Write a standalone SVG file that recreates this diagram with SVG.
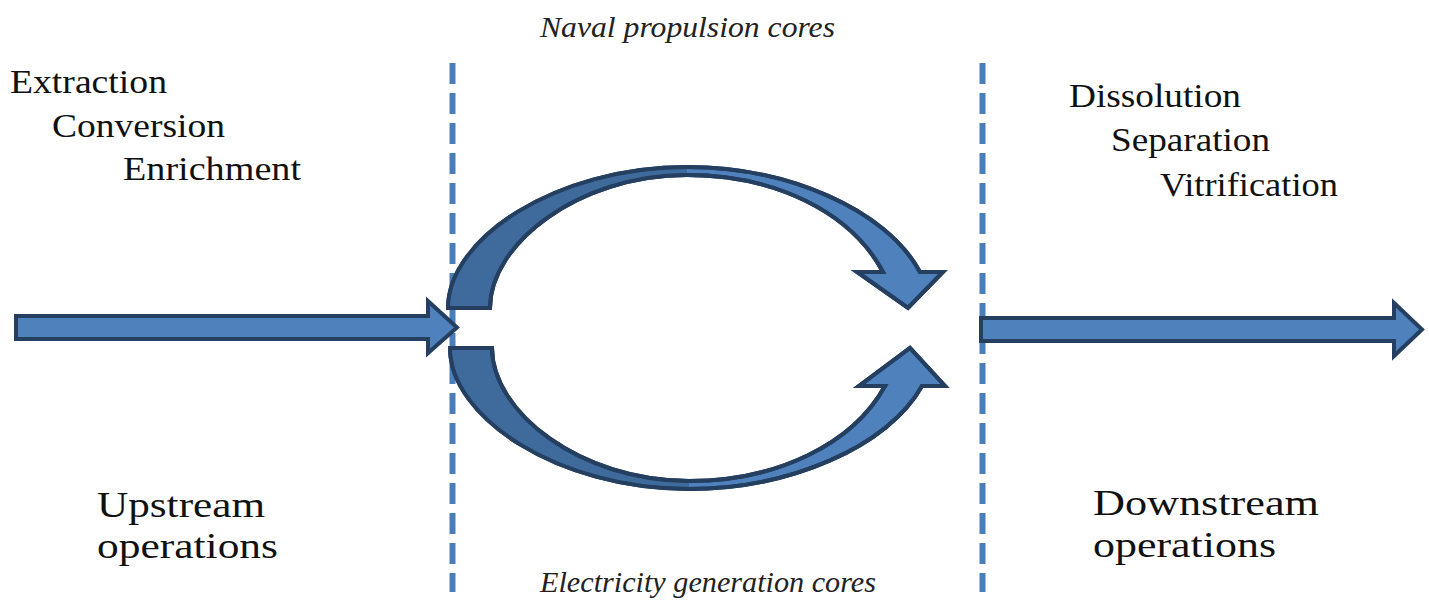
<svg xmlns="http://www.w3.org/2000/svg" width="1429" height="608" viewBox="0 0 1429 608">
<style>
.dash{stroke:#4a7ebb;stroke-width:6;stroke-dasharray:21 9;fill:none}
.arr{fill:#4f81bd;stroke:#243f60;stroke-width:4;stroke-linejoin:miter}
.back{fill:#3f6a9c;stroke:none}
.edge{fill:none;stroke:#243f60;stroke-width:4;stroke-linejoin:miter}
.t{font-family:"Liberation Serif",serif;fill:#111}
.it{font-family:"Liberation Serif",serif;font-style:italic;fill:#222}
</style>
<rect width="1429" height="608" fill="#fff"/>
<g id="dividers">
<line class="dash" x1="452.5" y1="63" x2="452.5" y2="592"/>
<line class="dash" x1="982.5" y1="63" x2="982.5" y2="592"/>
</g>
<g id="connectors">
<path id="upstream-arrow" class="arr" d="M16,316 L428,316 L428,301 L457,327.5 L428,353 L428,339 L16,339 Z"/>
<path id="downstream-arrow" class="arr" d="M981,318 L1394,318 L1394,303 L1422,329.5 L1394,356 L1394,341 L981,341 Z"/>
<g id="naval-arrow">
<path class="arr" d="M448,308 C448,239 555,167 687,167 C787,167 886,209 920,272 L943,272 L908,308 L857,272 L883,272 C851,212 775,175 687,175 C578,175 490,244 490,308 Z"/>
<path class="back" d="M450,306 C450,240 555,169 687,169 L687,173 C578,173 488,244 488,306 Z"/>
<path class="edge" d="M448,308 C448,239 555,167 687,167 C787,167 886,209 920,272 L943,272 L908,308 L857,272 L883,272 C851,212 775,175 687,175 C578,175 490,244 490,308 Z"/>
</g>
<g id="electricity-arrow" transform="translate(0,656) scale(1,-1)">
<path class="arr" d="M450,308 C450,239 557,167 689,167 C789,167 888,209 922,270 L945,270 L910,308 L859,270 L885,270 C853,212 777,175 689,175 C580,175 492,244 492,308 Z"/>
<path class="back" d="M452,306 C452,240 557,169 689,169 L689,173 C580,173 490,244 490,306 Z"/>
<path class="edge" d="M450,308 C450,239 557,167 689,167 C789,167 888,209 922,270 L945,270 L910,308 L859,270 L885,270 C853,212 777,175 689,175 C580,175 492,244 492,308 Z"/>
</g>
</g>
<g id="upstream-steps">
<text class="t" x="10" y="93" font-size="33" textLength="157" lengthAdjust="spacingAndGlyphs">Extraction</text>
<text class="t" x="52" y="137" font-size="33" textLength="173" lengthAdjust="spacingAndGlyphs">Conversion</text>
<text class="t" x="123" y="180" font-size="33" textLength="178" lengthAdjust="spacingAndGlyphs">Enrichment</text>
</g>
<g id="downstream-steps">
<text class="t" x="1069" y="107" font-size="33" textLength="172" lengthAdjust="spacingAndGlyphs">Dissolution</text>
<text class="t" x="1111" y="151" font-size="33" textLength="159" lengthAdjust="spacingAndGlyphs">Separation</text>
<text class="t" x="1160" y="196" font-size="33" textLength="178" lengthAdjust="spacingAndGlyphs">Vitrification</text>
</g>
<g id="upstream-label">
<text class="t" x="97" y="517" font-size="36" textLength="168" lengthAdjust="spacingAndGlyphs">Upstream</text>
<text class="t" x="97" y="558" font-size="36" textLength="181" lengthAdjust="spacingAndGlyphs">operations</text>
</g>
<g id="downstream-label">
<text class="t" x="1093" y="515" font-size="36" textLength="226" lengthAdjust="spacingAndGlyphs">Downstream</text>
<text class="t" x="1093" y="557" font-size="36" textLength="183" lengthAdjust="spacingAndGlyphs">operations</text>
</g>
<g id="core-labels">
<text class="it" x="540" y="37" font-size="30" textLength="295" lengthAdjust="spacingAndGlyphs">Naval propulsion cores</text>
<text class="it" x="540" y="592" font-size="30" textLength="336" lengthAdjust="spacingAndGlyphs">Electricity generation cores</text>
</g>
</svg>
